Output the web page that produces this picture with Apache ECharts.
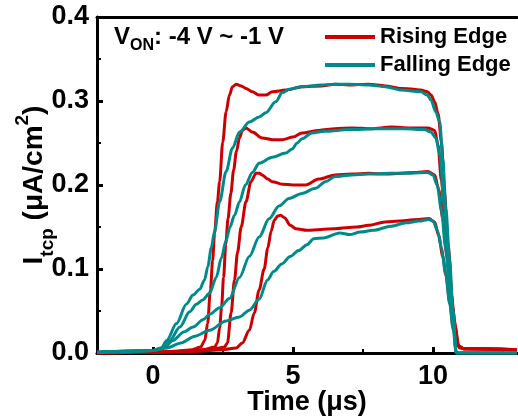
<!DOCTYPE html>
<html><head><meta charset="utf-8">
<script src="https://cdn.jsdelivr.net/npm/echarts@6/dist/echarts.min.js"></script>
<style>html,body{margin:0;padding:0;background:#fff}#c{width:518px;height:419px}</style>
</head><body><div id="c"></div>
<script>
const xMajorTicks = [0, 5, 10];
const xMinorTicks = [2.5, 7.5, 12.5];
const seriesNames = ['Rising Edge', 'Falling Edge'];

const rising1 = [[-2,0],[0,0.001],[0.8,0.002],[1.4,0.004],[1.7,0.007],[1.85,0.015],[1.95,0.035],[2.05,0.075],[2.13,0.11],[2.2,0.143],[2.3,0.18],[2.38,0.204],[2.49,0.251],[2.61,0.287],[2.73,0.307],[2.84,0.317],[2.97,0.320],[3.15,0.318],[3.32,0.315],[3.55,0.311],[3.79,0.307],[4.03,0.307],[4.26,0.311],[4.74,0.313],[5.32,0.317],[6.0,0.318],[6.51,0.320],[7.0,0.319],[7.7,0.320],[8.3,0.318],[8.87,0.315],[9.3,0.314],[9.57,0.313],[9.8,0.311],[9.93,0.307],[10.06,0.299],[10.18,0.285],[10.3,0.252],[10.41,0.192],[10.53,0.132],[10.71,0.053],[10.82,0.02],[10.92,0.008],[11.1,0.005],[12,0.005],[13,0.004]];
const rising2 = [[-2,0],[0,0.001],[1.0,0.002],[1.8,0.004],[2.2,0.007],[2.3,0.012],[2.38,0.03],[2.45,0.055],[2.52,0.09],[2.6,0.13],[2.68,0.16],[2.78,0.19],[2.88,0.218],[2.98,0.24],[3.09,0.256],[3.19,0.265],[3.32,0.268],[3.55,0.263],[3.9,0.256],[4.26,0.254],[4.62,0.254],[5.0,0.257],[5.32,0.262],[5.92,0.265],[6.5,0.267],[7.1,0.268],[7.8,0.267],[8.5,0.269],[9.2,0.268],[9.82,0.268],[10.06,0.265],[10.18,0.248],[10.3,0.205],[10.45,0.15],[10.6,0.09],[10.75,0.04],[10.9,0.009],[11.1,0.005],[13,0.004]];
const rising3 = [[-2,0],[0,0.001],[1.2,0.002],[2.2,0.005],[2.55,0.007],[2.66,0.012],[2.79,0.048],[2.91,0.087],[3.02,0.12],[3.15,0.15],[3.32,0.18],[3.5,0.204],[3.68,0.214],[3.8,0.214],[3.9,0.212],[4.1,0.207],[4.26,0.204],[4.62,0.201],[5.0,0.2],[5.45,0.2],[5.92,0.207],[6.51,0.212],[7.1,0.213],[7.7,0.214],[8.3,0.213],[8.87,0.214],[9.4,0.215],[9.82,0.216],[10.06,0.212],[10.2,0.195],[10.35,0.16],[10.5,0.115],[10.65,0.07],[10.8,0.03],[10.92,0.008],[11.1,0.005],[13,0.004]];
const rising4 = [[-2,0],[0,0.001],[1.5,0.002],[2.5,0.004],[2.97,0.006],[3.19,0.012],[3.44,0.027],[3.62,0.048],[3.79,0.075],[3.97,0.1],[4.1,0.125],[4.22,0.145],[4.33,0.158],[4.45,0.163],[4.56,0.164],[4.7,0.161],[4.9,0.152],[5.1,0.148],[5.5,0.146],[6.0,0.147],[6.51,0.148],[7.27,0.15],[7.7,0.152],[8.29,0.156],[8.8,0.157],[9.11,0.158],[9.5,0.159],[9.86,0.160],[10.06,0.156],[10.2,0.14],[10.35,0.115],[10.46,0.093],[10.6,0.06],[10.71,0.033],[10.85,0.012],[10.95,0.006],[11.1,0.005],[13,0.004]];

const falling1 = [[-2,0.001],[-1,0.001],[0,0.003],[0.3,0.006],[0.49,0.015],[0.84,0.035],[1.19,0.058],[1.43,0.069],[1.67,0.076],[1.84,0.087],[1.96,0.103],[2.08,0.125],[2.2,0.145],[2.38,0.18],[2.61,0.216],[2.84,0.244],[3.09,0.263],[3.44,0.275],[3.79,0.281],[4.03,0.286],[4.38,0.299],[4.62,0.31],[4.86,0.314],[5.32,0.317],[6.0,0.319],[6.5,0.32],[7.0,0.32],[7.7,0.319],[8.3,0.317],[8.87,0.313],[9.57,0.311],[9.8,0.307],[9.93,0.301],[10.1,0.287],[10.24,0.275],[10.35,0.232],[10.46,0.172],[10.59,0.113],[10.71,0.053],[10.83,0.0],[13,0]];
const falling2 = [[-2,0.001],[0,0.003],[0.35,0.006],[0.6,0.015],[0.96,0.031],[1.31,0.049],[1.55,0.058],[1.77,0.063],[2.02,0.071],[2.26,0.09],[2.44,0.113],[2.61,0.134],[2.75,0.15],[2.91,0.164],[3.09,0.18],[3.3,0.2],[3.55,0.215],[3.79,0.226],[4.26,0.233],[4.74,0.238],[4.97,0.243],[5.15,0.25],[5.32,0.255],[5.67,0.262],[6.16,0.264],[7.0,0.266],[8.0,0.267],[9.0,0.267],[9.7,0.266],[9.93,0.263],[10.1,0.256],[10.25,0.235],[10.4,0.175],[10.55,0.11],[10.7,0.05],[10.83,0.0],[13,0]];
const falling3 = [[-2,0.001],[0,0.003],[0.4,0.006],[0.71,0.015],[1.1,0.025],[1.43,0.031],[1.8,0.04],[2.02,0.046],[2.38,0.054],[2.73,0.065],[3.09,0.09],[3.44,0.115],[3.79,0.138],[4.15,0.16],[4.5,0.175],[4.86,0.184],[5.32,0.19],[5.8,0.196],[6.16,0.204],[6.51,0.21],[7.1,0.212],[7.7,0.213],[8.5,0.214],[9.2,0.214],[9.82,0.215],[10.0,0.212],[10.15,0.2],[10.3,0.17],[10.45,0.125],[10.6,0.075],[10.72,0.035],[10.83,0.0],[13,0]];
const falling4 = [[-2,0.001],[0,0.003],[0.5,0.006],[1.0,0.012],[1.5,0.02],[2.02,0.027],[2.61,0.038],[3.09,0.043],[3.44,0.051],[3.79,0.064],[4.09,0.087],[4.31,0.097],[4.6,0.106],[4.9,0.115],[5.2,0.122],[5.5,0.129],[5.74,0.136],[6.09,0.137],[6.67,0.143],[7.02,0.141],[7.4,0.144],[7.86,0.146],[8.5,0.151],[9.04,0.155],[9.5,0.157],[9.86,0.159],[10.0,0.157],[10.17,0.145],[10.3,0.125],[10.45,0.095],[10.6,0.058],[10.72,0.028],[10.83,0.0],[13,0]];

const risingSets = [rising1, rising2, rising3, rising4];
const fallingSets = [falling1, falling2, falling3, falling4];

const RED = '#CC0000', TEAL = '#008B8B';
const FONT = '"Liberation Sans", Arial, sans-serif';

const series = [];
risingSets.forEach(d => series.push({
  name: seriesNames[0], type: 'line', data: d, symbol: 'none', smooth: 0.3, smoothMonotone: 'x',
  lineStyle: {color: RED, width: 3}, itemStyle: {color: RED}, z: 2
}));
fallingSets.forEach(d => series.push({
  name: seriesNames[1], type: 'line', data: d, symbol: 'none', smooth: 0.3, smoothMonotone: 'x',
  lineStyle: {color: TEAL, width: 3}, itemStyle: {color: TEAL}, z: 3
}));

const chart = echarts.init(document.getElementById('c'), null, {renderer: 'canvas'});
chart.setOption({
  animation: false,
  backgroundColor: '#fff',
  textStyle: {fontFamily: FONT},
  grid: {left: 97, right: 1, top: 17, bottom: 66, containLabel: false, outerBoundsMode: 'none'},
  legend: {
    data: seriesNames, orient: 'vertical', left: 320, top: 21,
    icon: 'rect', itemWidth: 50, itemHeight: 4, itemGap: 6,
    textStyle: {fontSize: 22, fontWeight: 'bold', color: '#000', fontFamily: FONT}
  },
  graphic: [{
    type: 'text', left: 114, top: 25,
    style: {
      text: '{v|V}{s|ON}{v|: -4 V ~ -1 V}',
      rich: {
        v: {fontSize: 24, fontWeight: 'bold', fill: '#000', fontFamily: FONT, verticalAlign: 'bottom', lineHeight: 28},
        s: {fontSize: 16, fontWeight: 'bold', fill: '#000', fontFamily: FONT, verticalAlign: 'bottom', lineHeight: 20, padding: [0, 0, -5, 0]}
      }
    }
  }],
  xAxis: [{
    type: 'value', min: -2, max: 13, position: 'bottom',
    name: 'Time (μs)', nameLocation: 'middle', nameGap: 36, nameMoveOverlap: false,
    nameTextStyle: {fontSize: 27, fontWeight: 'bold', color: '#000', fontFamily: FONT},
    axisLine: {show: true, onZero: false, lineStyle: {color: '#000', width: 3}},
    axisTick: {show: true, inside: true, length: 6, customValues: xMajorTicks, lineStyle: {color: '#000', width: 3}},
    axisLabel: {customValues: xMajorTicks, fontSize: 27, fontWeight: 'bold', color: '#000', margin: 10, fontFamily: FONT},
    splitLine: {show: false}
  }, {
    type: 'value', min: -2, max: 13, position: 'top',
    axisLine: {show: true, onZero: false, lineStyle: {color: '#000', width: 3}},
    axisTick: {show: false}, axisLabel: {show: false}, splitLine: {show: false}
  }, {
    type: 'value', min: -2, max: 13, position: 'bottom',
    axisLine: {show: false, onZero: false},
    axisTick: {show: true, inside: true, length: 4, customValues: xMinorTicks, lineStyle: {color: '#000', width: 2}},
    axisLabel: {show: false}, splitLine: {show: false}
  }],
  yAxis: {
    type: 'value', min: 0, max: 0.4, interval: 0.1, position: 'left',
    name: '{m|I}{sub|tcp}{m| (μA/cm}{sup|2}{m|)}',
    nameLocation: 'middle', nameGap: 46, nameRotate: 90, nameMoveOverlap: false,
    nameTextStyle: {
      color: '#000', fontFamily: FONT,
      rich: {
        m: {fontSize: 28, fontWeight: 'bold', color: '#000', fontFamily: FONT, lineHeight: 34, verticalAlign: 'middle'},
        sub: {fontSize: 19, fontWeight: 'bold', color: '#000', fontFamily: FONT, lineHeight: 34, verticalAlign: 'bottom', padding: [0,0,-6,0]},
        sup: {fontSize: 19, fontWeight: 'bold', color: '#000', fontFamily: FONT, lineHeight: 34, verticalAlign: 'top', padding: [-4,0,0,0]}
      }
    },
    axisLine: {show: true, onZero: false, lineStyle: {color: '#000', width: 3}},
    axisTick: {show: true, inside: true, length: 6, lineStyle: {color: '#000', width: 3}},
    minorTick: {show: true, splitNumber: 2, length: 4, lineStyle: {color: '#000', width: 2}},
    axisLabel: {fontSize: 27, fontWeight: 'bold', color: '#000', margin: 8, fontFamily: FONT, formatter: v => v.toFixed(1)},
    splitLine: {show: false}, minorSplitLine: {show: false}
  },
  series: series
});
</script></body></html>
